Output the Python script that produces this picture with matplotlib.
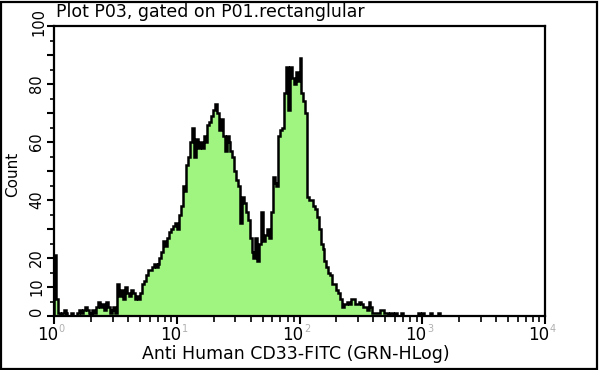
import numpy as np
import matplotlib
matplotlib.use("Agg")
import matplotlib.pyplot as plt
from matplotlib.patches import Rectangle
from matplotlib.ticker import FixedLocator, NullFormatter

# ---- data (256 channels over 4 decades; 64 channels per decade) ----
channels_per_decade = 64
counts = [
    21, 6, 1, 0, 1, 2, 1, 0, 0, 1,
    0, 0, 1, 2, 1, 2, 3, 2, 1, 0,
    2, 1, 3, 5, 3, 4, 2, 5, 3, 1,
    2, 3, 1, 11, 7, 9, 6, 10, 8, 7,
    9, 8, 6, 7, 6, 8, 11, 12, 14, 16,
    16, 17, 18, 17, 18, 20, 22, 26, 24, 27,
    29, 30, 31, 32, 30, 35, 38, 45, 43, 52,
    55, 60, 65, 55, 61, 58, 60, 58, 62, 60,
    66, 67, 69, 71, 73, 70, 64, 68, 62, 57,
    62, 60, 57, 55, 50, 47, 45, 32, 41, 39,
    36, 33, 27, 22, 20, 27, 19, 25, 36, 26,
    28, 30, 27, 36, 48, 46, 45, 62, 64, 65,
    77, 86, 71, 86, 82, 80, 84, 81, 89, 77,
    74, 70, 41, 40, 40, 38, 37, 34, 30, 25,
    23, 19, 17, 15, 14, 11, 11, 9, 8, 6,
    3, 4, 4, 5, 4, 6, 6, 4, 4, 5,
    4, 3, 3, 2, 5, 3, 1, 1, 1, 1,
    2, 2, 1, 1, 0, 1, 1, 0, 1, 0,
    0, 1, 0, 0, 0, 0, 0, 0, 0, 0,
    1, 0, 1, 0, 0, 0, 1, 0, 0, 0,
    1, 0,
]
decades = [0, 1, 2, 3, 4]
y_major = [0, 10, 20, 30, 40, 50, 60, 70, 80, 90, 100]
y_labels = ["0", "10", "20", "", "40", "", "60", "", "80", "", "100"]
y_minor = [5, 15, 25, 35, 45, 55, 65, 75, 85, 95]
title = "Plot P03, gated on P01.rectanglular"
xlabel = "Anti Human CD33-FITC (GRN-HLog)"
ylabel = "Count"

green = "#a0f580"

fig = plt.figure(figsize=(6.0, 3.7), dpi=100)
ax = fig.add_axes([54 / 600, 1 - 316 / 370, (545 - 54) / 600, (316 - 26) / 370])

edges = 10 ** (np.arange(len(counts) + 1) / channels_per_decade)
ax.stairs(counts, edges, fill=True, color=green, baseline=0)
ax.stairs(counts, edges, fill=False, color="black", linewidth=1.8, baseline=0)

ax.set_xscale("log")
ax.set_xlim(10 ** decades[0], 10 ** decades[-1])
ax.set_ylim(0, 100)

# x ticks
ax.xaxis.set_major_locator(FixedLocator([10 ** d for d in decades]))
minor = [m * 10 ** d for d in decades[:-1] for m in range(2, 10)]
ax.xaxis.set_minor_locator(FixedLocator(minor))
ax.xaxis.set_major_formatter(NullFormatter())
ax.xaxis.set_minor_formatter(NullFormatter())
ax.tick_params(axis="x", which="major", length=6, width=1.5, direction="out")
ax.tick_params(axis="x", which="minor", length=4, width=1.2, direction="out")
for d in decades:
    ax.annotate("10", xy=(10 ** d, 0), xycoords=("data", "axes fraction"),
                xytext=(3, -7), textcoords="offset points",
                ha="right", va="top", fontsize=12, color="black")
    ax.annotate(str(d), xy=(10 ** d, 0), xycoords=("data", "axes fraction"),
                xytext=(3.5, -6), textcoords="offset points",
                ha="left", va="top", fontsize=7, color="#b0b0b0")

# y ticks
ax.set_yticks(y_major)
ax.set_yticks(y_minor, minor=True)
ax.set_yticklabels(y_labels[:-1] + [""], rotation=90, fontsize=10.5)
ax.tick_params(axis="y", which="major", length=5, width=1.5, direction="out", pad=2)
ax.tick_params(axis="y", which="minor", length=3, width=1.2, direction="out")
for lab in ax.get_yticklabels():
    lab.set_va("center")
ax.get_yticklabels()[0].set_va("bottom")
# top label placed so it stays inside the figure, as in the reference
ax.annotate(y_labels[-1], xy=(0, y_major[-1]), xycoords=("axes fraction", "data"),
            xytext=(-5.5, 3), textcoords="offset points",
            ha="right", va="center", rotation=90, fontsize=10.5)

for sp in ax.spines.values():
    sp.set_linewidth(1.6)
    sp.set_color("black")

fig.text(56 / 600, 1 - 12 / 370, title, ha="left", va="center", fontsize=12.5)
fig.text(296 / 600, 1 - 354 / 370, xlabel, ha="center", va="center", fontsize=12.5)
fig.text(13 / 600, 1 - 174 / 370, ylabel, ha="center", va="center", rotation=90, fontsize=11)

fig.patches.append(Rectangle((1 / 600, 1 / 370), 596 / 600, 367 / 370,
                             transform=fig.transFigure, fill=False,
                             edgecolor="black", linewidth=1.6))

fig.savefig("out.png", dpi=100, facecolor="white")
